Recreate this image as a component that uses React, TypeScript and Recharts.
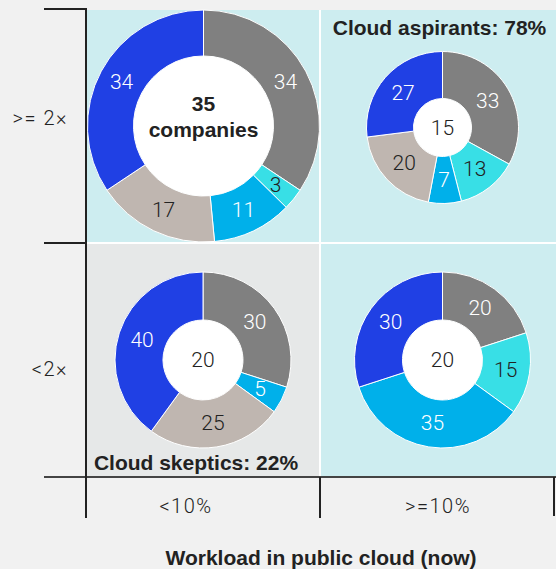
import { PieChart, Pie, Cell } from "recharts";

const segmentNames = ["Gray", "Cyan", "Sky", "Beige", "Blue"];
const segmentColors = ["#808080", "#38dfe6", "#00b0ea", "#bfb6b0", "#2040e4"];
const segmentTextColors = ["#ffffff", "#222222", "#ffffff", "#222222", "#ffffff"];

const topLeftValues = [34, 3, 11, 17, 34];
const topRightValues = [33, 13, 7, 20, 27];
const bottomLeftValues = [30, 0, 5, 25, 40];
const bottomRightValues = [20, 15, 35, 0, 30];

const centerLabels = ["35", "15", "20", "20"];
const rowLabels = [">= 2×", "<2×"];
const colLabels = ["<10%", ">=10%"];

const FONT_LIGHT = "Roboto, 'Liberation Sans', sans-serif";
const FONT_BOLD = "'Liberation Sans', Arial, sans-serif";
const CYAN_BG = "#cdedf0";
const GRAY_BG = "#e6e8e8";
const PAGE_BG = "#f1f1f1";
const INK = "#222222";

const buildData = (values: number[]) =>
    segmentNames
        .map((name, i) => ({ name, value: values[i], color: segmentColors[i], text: segmentTextColors[i] }))
        .filter((d) => d.value > 0);

const RADIAN = Math.PI / 180;

const renderLabel = (props: any) => {
    const { cx, cy, midAngle, innerRadius, outerRadius, value, payload } = props;
    const r = (innerRadius + outerRadius) / 2;
    const x = cx + r * Math.cos(-midAngle * RADIAN);
    const y = cy + r * Math.sin(-midAngle * RADIAN);
    const fill = payload?.text ?? props.text ?? "#fff";
    return (
        <text
            x={x}
            y={y}
            fill={fill}
            textAnchor="middle"
            dominantBaseline="central"
            fontFamily={FONT_LIGHT}
            fontWeight={300}
            fontSize={21}
        >
            {value}
        </text>
    );
};

const pies = [
    { key: "tl", data: buildData(topLeftValues), cx: 203.5, cy: 126, inner: 70, outer: 116 },
    { key: "tr", data: buildData(topRightValues), cx: 442.5, cy: 127.5, inner: 29, outer: 76 },
    { key: "bl", data: buildData(bottomLeftValues), cx: 203, cy: 360, inner: 40, outer: 88 },
    { key: "br", data: buildData(bottomRightValues), cx: 442.5, cy: 360, inner: 40, outer: 88 },
];

export default function App() {
    return (
        <div style={{ position: "absolute", left: 0, top: 0, width: 556, height: 569, background: PAGE_BG, overflow: "hidden" }}>
            <svg width={556} height={569} style={{ position: "absolute", left: 0, top: 0 }}>
                {/* panels */}
                <rect x={87} y={10} width={469} height={466} fill="#ffffff" />
                <rect x={87} y={10} width={232} height={232} fill={CYAN_BG} />
                <rect x={321} y={10} width={235} height={232} fill={CYAN_BG} />
                <rect x={87} y={244} width={232} height={232} fill={GRAY_BG} />
                <rect x={321} y={244} width={235} height={232} fill={CYAN_BG} />

                {/* grid lines */}
                <line x1={44} y1={9} x2={87} y2={9} stroke={INK} strokeWidth={2} />
                <line x1={44} y1={243} x2={87} y2={243} stroke={INK} strokeWidth={2} />
                <line x1={44} y1={477} x2={556} y2={477} stroke="#444" strokeWidth={2} />
                <line x1={86} y1={8} x2={86} y2={518} stroke={INK} strokeWidth={2} />
                <line x1={320} y1={477} x2={320} y2={518} stroke={INK} strokeWidth={2} />
                <line x1={554} y1={477} x2={554} y2={516} stroke={INK} strokeWidth={2} />

                {/* donut holes */}
                {pies.map((p) => (
                    <circle key={`hole-${p.key}`} cx={p.cx} cy={p.cy} r={p.inner} fill="#ffffff" />
                ))}

                {/* centre texts */}
                <text x={pies[0].cx} y={111} textAnchor="middle" fontFamily={FONT_BOLD} fontWeight={700} fontSize={21} fill={INK}>
                    {centerLabels[0]}
                </text>
                <text x={pies[0].cx} y={137} textAnchor="middle" fontFamily={FONT_BOLD} fontWeight={700} fontSize={21} fill={INK}>
                    companies
                </text>
                {pies.slice(1).map((p, i) => (
                    <text
                        key={`c-${p.key}`}
                        x={p.cx}
                        y={p.cy}
                        textAnchor="middle"
                        dominantBaseline="central"
                        fontFamily={FONT_LIGHT}
                        fontWeight={300}
                        fontSize={21}
                        fill={INK}
                    >
                        {centerLabels[i + 1]}
                    </text>
                ))}

                {/* quadrant titles */}
                <text x={439.5} y={34.5} textAnchor="middle" fontFamily={FONT_BOLD} fontWeight={700} fontSize={21} fill={INK}>
                    Cloud aspirants: 78%
                </text>
                <text x={196} y={469.5} textAnchor="middle" fontFamily={FONT_BOLD} fontWeight={700} fontSize={21} fill={INK}>
                    Cloud skeptics: 22%
                </text>

                {/* axis labels */}
                <text x={68} y={124.5} textAnchor="end" fontFamily={FONT_LIGHT} fontWeight={300} fontSize={20} letterSpacing={1.5} fill={INK}>
                    {rowLabels[0]}
                </text>
                <text x={68} y={376} textAnchor="end" fontFamily={FONT_LIGHT} fontWeight={300} fontSize={20} letterSpacing={1.5} fill={INK}>
                    {rowLabels[1]}
                </text>
                <text x={186} y={512.5} textAnchor="middle" fontFamily={FONT_LIGHT} fontWeight={300} fontSize={20} letterSpacing={1.5} fill={INK}>
                    {colLabels[0]}
                </text>
                <text x={438} y={512.5} textAnchor="middle" fontFamily={FONT_LIGHT} fontWeight={300} fontSize={20} letterSpacing={1.5} fill={INK}>
                    {colLabels[1]}
                </text>
                <text x={321} y={565} textAnchor="middle" fontFamily={FONT_BOLD} fontWeight={700} fontSize={21} fill={INK}>
                    Workload in public cloud (now)
                </text>
            </svg>

            <div style={{ position: "absolute", left: 0, top: 0 }}>
                <PieChart width={556} height={569} margin={{ top: 0, right: 0, bottom: 0, left: 0 }}>
                    {pies.map((p) => (
                        <Pie
                            key={p.key}
                            data={p.data}
                            dataKey="value"
                            nameKey="name"
                            cx={p.cx}
                            cy={p.cy}
                            innerRadius={p.inner}
                            outerRadius={p.outer}
                            startAngle={90}
                            endAngle={-270}
                            stroke="#ffffff"
                            strokeWidth={1}
                            labelLine={false}
                            label={renderLabel}
                            isAnimationActive={false}
                        >
                            {p.data.map((d, i) => (
                                <Cell key={`cell-${i}`} fill={d.color} />
                            ))}
                        </Pie>
                    ))}
                </PieChart>
            </div>
        </div>
    );
}
